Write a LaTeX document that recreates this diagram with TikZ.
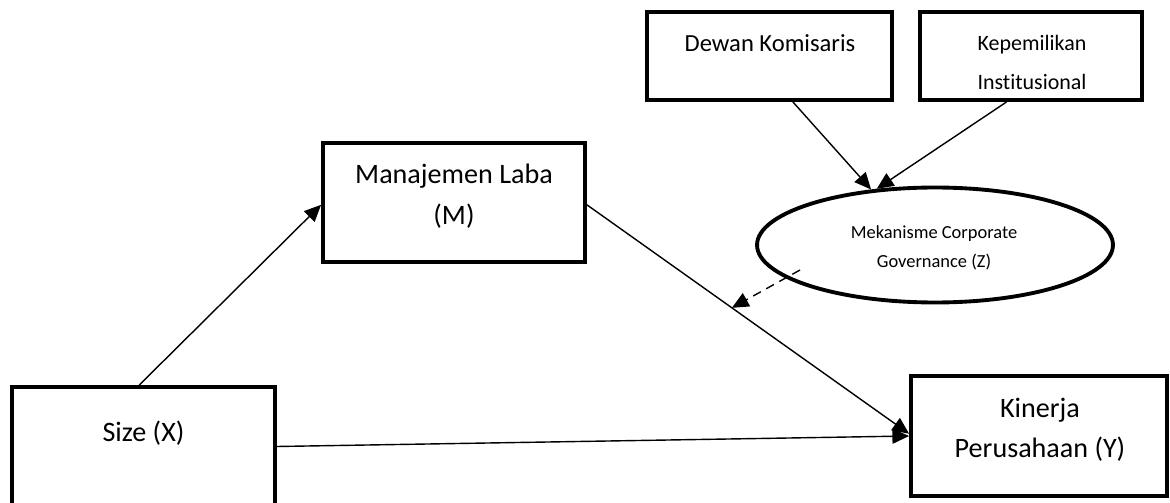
\documentclass[tikz,border=0pt]{standalone}
\usepackage{fontspec}
\setmainfont{Carlito}[Ligatures=NoCommon]
\usetikzlibrary{arrows.meta,shapes.geometric,calc}

\begin{document}
\begin{tikzpicture}[x=0.02cm,y=-0.02cm,
    varbox/.style={draw,line width=2.2pt,inner sep=0pt},
    link/.style={line width=0.8pt,-{Triangle[length=9.5pt,width=8.5pt]}},
    modlink/.style={link,dash pattern=on 5pt off 3.5pt},
    txt/.style={align=center,inner sep=0pt}]
  \useasboundingbox (0,0) rectangle (1170,503);
  \clip (0,0) rectangle (1170,503);

  \node[varbox,minimum width=5.26cm,minimum height=2.38cm] (sz) at (143.5,446.5) {};
  \node[varbox,minimum width=5.24cm,minimum height=2.38cm] (ml) at (454,202.5) {};
  \node[varbox,minimum width=5.12cm,minimum height=2.4cm] (kp) at (1039,436) {};
  \node[varbox,minimum width=4.9cm,minimum height=1.76cm] (dk) at (769.5,56) {};
  \node[varbox,minimum width=4.44cm,minimum height=1.76cm] (ki) at (1031,56) {};
  \node[varbox,ellipse,minimum width=7.12cm,minimum height=2.3cm] (mcg) at (935,245) {};

  \node[txt,font=\fontsize{16}{23}\selectfont] (szt) at (143.5,433) {Size (X)};
  \node[txt,font=\fontsize{16}{23.5}\selectfont] (mlt) at (454,196) {Manajemen Laba\\(M)};
  \node[txt,font=\fontsize{16}{22.5}\selectfont] (kpt) at (1040,430) {Kinerja\\Perusahaan (Y)};
  \node[txt,font=\fontsize{14}{20}\selectfont] (dkt) at (770,43) {Dewan Komisaris};
  \node[txt,font=\fontsize{12.5}{22}\selectfont] (kit) at (1032,62.5) {Kepemilikan\\Institusional};
  \node[txt,font=\fontsize{10.5}{16.4}\selectfont] (mcgt) at (934,247.5) {Mekanisme Corporate\\Governance (Z)};

  \draw[link] (sz.94) -- (ml.181);
  \draw[link] (ml.-1) -- coordinate[pos=0.45] (mod) (kp.179);
  \draw[link] (sz.east) -- (kp.west);
  \draw[link] (dk.-63) -- (mcg.139);
  \draw[link] (ki.-118) -- (mcg.136);
  \draw[modlink] ($(mcg)+(-135,25)$) -- (mod);
\end{tikzpicture}
\end{document}
